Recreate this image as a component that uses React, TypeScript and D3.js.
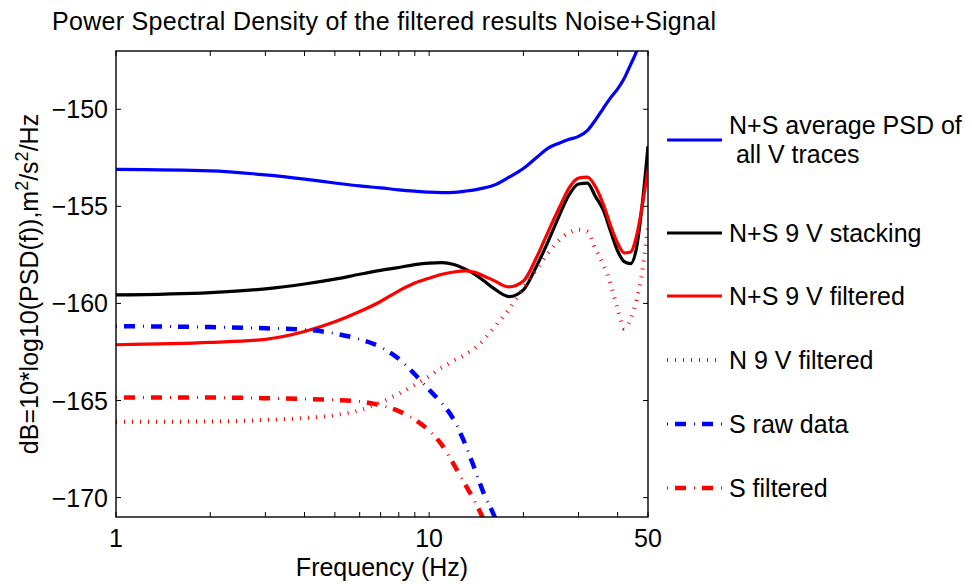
import React from "react";
import * as d3 from "d3";

const FREQ = [1, 2, 3, 4, 5, 6, 7, 8, 9, 10, 11, 12, 13, 14, 15, 16, 18, 20, 22, 24, 26, 28, 30, 32, 34, 36, 38, 40, 42, 44, 46, 48, 50];
const NS_AVG = [-153.1, -153.17, -153.38, -153.6, -153.8, -153.95, -154.05, -154.15, -154.22, -154.27, -154.29, -154.28, -154.22, -154.15, -154.05, -153.93, -153.5, -153.05, -152.5, -152.0, -151.75, -151.55, -151.4, -151.1, -150.55, -149.95, -149.4, -148.95, -148.4, -147.7, -147.0, -146.0, -145.0];
const NS_STACK = [-159.56, -159.44, -159.25, -159.0, -158.75, -158.5, -158.3, -158.15, -158.0, -157.92, -157.9, -158.0, -158.22, -158.5, -158.85, -159.2, -159.65, -159.3, -158.1, -156.8, -155.5, -154.4, -153.85, -153.8, -154.5, -155.2, -156.3, -157.3, -157.85, -157.95, -157.1, -154.8, -151.9];
const NS_FILT = [-162.13, -162.01, -161.85, -161.45, -160.95, -160.42, -159.9, -159.35, -158.95, -158.7, -158.5, -158.38, -158.32, -158.4, -158.6, -158.8, -159.15, -158.85, -157.65, -156.3, -155.1, -154.05, -153.55, -153.5, -154.0, -154.9, -156.0, -156.9, -157.4, -157.35, -156.5, -154.9, -153.1];
const N_FILT = [-166.1, -166.08, -166.0, -165.9, -165.75, -165.5, -165.1, -164.65, -164.2, -163.75, -163.3, -162.95, -162.65, -162.3, -161.85, -161.3, -160.3, -159.2, -158.25, -157.4, -156.75, -156.35, -156.2, -156.3, -157.2, -158.0, -159.0, -160.3, -161.3, -160.8, -159.8, -158.3, -156.0];

const FREQ_S = [1, 2, 3, 4, 5, 6, 7, 8, 9, 10, 11, 12, 13, 14, 15, 16, 18, 20];
const S_RAW = [-161.17, -161.22, -161.28, -161.35, -161.55, -161.85, -162.25, -162.85, -163.65, -164.45, -165.15, -166.0, -167.2, -168.55, -169.85, -170.8, -173, -175];
const S_FILT = [-164.84, -164.85, -164.88, -164.92, -164.97, -165.05, -165.25, -165.55, -165.98, -166.55, -167.3, -168.3, -169.3, -170.2, -171.2, -172.2, -174, -176];

const Y_TICKS = [-170, -165, -160, -155, -150];
const X_TICKS = [1, 2, 3, 4, 5, 6, 7, 8, 9, 10, 20, 30, 40, 50];
const X_LABELS = [1, 10, 50];

const LEGEND_LABELS = [
  ["N+S average PSD of", " all V traces"],
  ["N+S 9 V stacking"],
  ["N+S 9 V filtered"],
  ["N 9 V filtered"],
  ["S raw data"],
  ["S filtered"],
];

const FONT = "'Liberation Sans', Arial, Helvetica, sans-serif";
const FS = 25;

type Style = { color: string; kind: "solid" | "dotted" | "dashdot" };
const STYLES: Style[] = [
  { color: "#0000ff", kind: "solid" },
  { color: "#000000", kind: "solid" },
  { color: "#ff0000", kind: "solid" },
  { color: "#ff0000", kind: "dotted" },
  { color: "#0000ff", kind: "dashdot" },
  { color: "#ff0000", kind: "dashdot" },
];

function StyledPath({ d, style }: { d: string; style: Style }) {
  if (style.kind === "solid") {
    return <path d={d} fill="none" stroke={style.color} strokeWidth={3.2} strokeLinejoin="round" />;
  }
  if (style.kind === "dotted") {
    return <path d={d} fill="none" stroke={style.color} strokeWidth={4} strokeDasharray="1,7" />;
  }
  return (
    <g>
      <path d={d} fill="none" stroke={style.color} strokeWidth={4.5} strokeDasharray="0,8,11,8" />
      <path d={d} fill="none" stroke={style.color} strokeWidth={3} strokeDasharray="1,26" />
    </g>
  );
}

export default function App() {
  const W = 972, H = 584;
  const L = 116, R = 648, T = 51, B = 517;
  const x = d3.scaleLog().domain([1, 50]).range([L, R]);
  const y = d3.scaleLinear().domain([-171, -147]).range([B, T]);

  const line = d3
    .line<[number, number]>()
    .x((d) => x(d[0]))
    .y((d) => y(d[1]))
    .curve(d3.curveMonotoneX);

  const series: [number, number][][] = [
    FREQ.map((f, i) => [f, NS_AVG[i]]),
    FREQ.map((f, i) => [f, NS_STACK[i]]),
    FREQ.map((f, i) => [f, NS_FILT[i]]),
    FREQ.map((f, i) => [f, N_FILT[i]]),
    FREQ_S.map((f, i) => [f, S_RAW[i]]),
    FREQ_S.map((f, i) => [f, S_FILT[i]]),
  ];

  const tickLen = 5;
  const legendY = [140, 233, 296, 360, 424, 488];

  return (
    <svg width={W} height={H} style={{ position: "absolute", left: 0, top: 0, background: "#fff" }} fontFamily={FONT}>
      <rect x={0} y={0} width={W} height={H} fill="#fff" />
      <defs>
        <clipPath id="plotClip">
          <rect x={L} y={T} width={R - L} height={B - T} />
        </clipPath>
      </defs>
      <rect x={L} y={T} width={R - L} height={B - T} fill="#fff" />

      {X_TICKS.map((t) => (
        <g key={"xt" + t}>
          <line x1={x(t)} x2={x(t)} y1={B} y2={B - tickLen} stroke="#000" strokeWidth={1} />
          <line x1={x(t)} x2={x(t)} y1={T} y2={T + tickLen} stroke="#000" strokeWidth={1} />
        </g>
      ))}
      {Y_TICKS.map((t) => (
        <g key={"yt" + t}>
          <line x1={L} x2={L + tickLen} y1={y(t)} y2={y(t)} stroke="#000" strokeWidth={1} />
          <line x1={R} x2={R - tickLen} y1={y(t)} y2={y(t)} stroke="#000" strokeWidth={1} />
        </g>
      ))}

      <g clipPath="url(#plotClip)">
        {series.map((s, i) => (
          <StyledPath key={i} d={line(s) || ""} style={STYLES[i]} />
        ))}
      </g>

      <rect x={L} y={T} width={R - L} height={B - T} fill="none" stroke="#000" strokeWidth={1.4} />

      {Y_TICKS.map((t) => (
        <text key={"yl" + t} x={L - 8} y={y(t)} dy="0.36em" textAnchor="end" fontSize={FS}>
          {"\u2212" + Math.abs(t)}
        </text>
      ))}
      {X_LABELS.map((t) => (
        <text key={"xl" + t} x={x(t)} y={547} textAnchor="middle" fontSize={FS}>
          {t}
        </text>
      ))}

      <text x={(L + R) / 2} y={576} textAnchor="middle" fontSize={FS}>
        Frequency (Hz)
      </text>
      <text transform={`translate(38,${(T + B) / 2}) rotate(-90)`} textAnchor="middle" fontSize={FS}>
        dB=10*log10(PSD(f)),m<tspan dy={-10} fontSize={18}>2</tspan>
        <tspan dy={10}>/s</tspan>
        <tspan dy={-10} fontSize={18}>2</tspan>
        <tspan dy={10}>/Hz</tspan>
      </text>

      <text x={384} y={30} textAnchor="middle" fontSize={FS} textLength={664} lengthAdjust="spacing">
        Power Spectral Density of the filtered results Noise+Signal
      </text>

      {LEGEND_LABELS.map((lab, i) => {
        const ly = legendY[i];
        const d = `M667,${ly}L722,${ly}`;
        return (
          <g key={"lg" + i}>
            <StyledPath d={d} style={STYLES[i]} />
            {lab.length === 1 ? (
              <text x={729} y={ly + 9} fontSize={FS}>
                {lab[0]}
              </text>
            ) : (
              <text x={729} y={134} fontSize={FS} style={{ whiteSpace: "pre" }}>
                <tspan x={729} y={134}>{lab[0]}</tspan>
                <tspan x={729} y={163}>{lab[1]}</tspan>
              </text>
            )}
          </g>
        );
      })}
    </svg>
  );
}
